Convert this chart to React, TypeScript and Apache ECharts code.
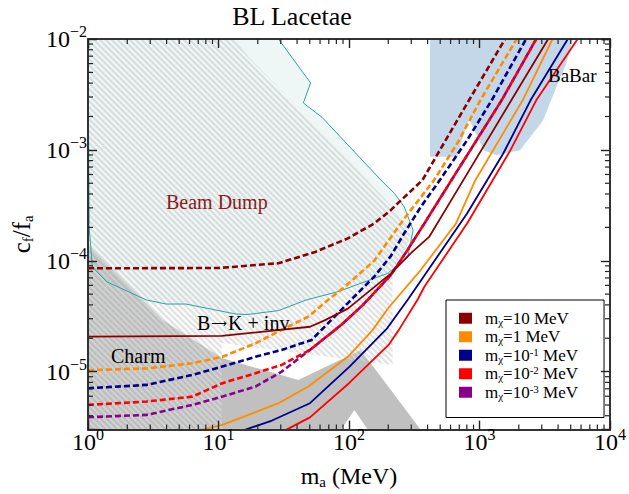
import React, { useEffect, useRef } from 'react';
import * as echarts from 'echarts';

const FONT = "'Liberation Serif', 'Times New Roman', Times, serif";
const X_MIN = 1, X_MAX = 1e4, Y_MIN = 3e-6, Y_MAX = 1e-2;

// ---------- legend ----------
const LEGEND_KEYS = ['m10', 'm1', 'm0.1', 'm0.01', 'm0.001'];
const LEGEND_TEXT: Record<string, string> = {
  m10: 'm{sub|χ}=10 MeV',
  m1: 'm{sub|χ}=1 MeV',
  'm0.1': 'm{sub|χ}=10{sup|-1} MeV',
  'm0.01': 'm{sub|χ}=10{sup|-2} MeV',
  'm0.001': 'm{sub|χ}=10{sup|-3} MeV',
};
const COLORS: Record<string, string> = {
  m10: '#8b0000', m1: '#ff8c00', 'm0.1': '#00008b', 'm0.01': '#ff0000', 'm0.001': '#8b008b',
};

// ---------- curves [m_a (MeV), c_f/f_a] ----------
const darkredDashed = [[1, 8.55e-5], [10, 8.6e-5], [28.8, 9.5e-5], [55, 1.2e-4], [98, 1.59e-4], [156, 2.17e-4], [209, 2.86e-4], [236, 3.29e-4], [365, 5.33e-4], [800, 2.6e-3], [1570, 1e-2]];
const orangeDashed = [[1, 1.03e-5], [2.8, 1.07e-5], [6.3, 1.19e-5], [10.7, 1.36e-5], [19.2, 1.8e-5], [30.5, 2.38e-5], [48.8, 3.13e-5], [69, 4.43e-5], [93, 5.83e-5], [156, 1.0e-4], [265, 2.4e-4], [448, 5.33e-4], [674, 1.14e-3], [1014, 2.8e-3], [1928, 1e-2]];
const navyDashed = [[1, 7.08e-6], [2.8, 7.59e-6], [6.3, 9.33e-6], [10.7, 1.11e-5], [19.2, 1.36e-5], [30.5, 1.57e-5], [51.7, 1.93e-5], [98, 4.15e-5], [156, 7.18e-5], [209, 1.1e-4], [265, 1.77e-4], [355, 3.06e-4], [500, 5.4e-4], [803, 1.22e-3], [1239, 2.8e-3], [2277, 1e-2]];
const redDashed = [[1, 5.01e-6], [2.8, 5.37e-6], [6.3, 5.95e-6], [10.7, 7.86e-6], [19.2, 9.68e-6], [30.5, 1.15e-5], [50.2, 1.57e-5], [87, 2.63e-5], [128, 4.0e-5], [209, 7.43e-5], [281, 1.25e-4], [378, 2.17e-4], [566, 4.64e-4], [1478, 2.8e-3], [2720, 1e-2]];
const purpleDashed = [[1, 3.88e-6], [2.8, 4.07e-6], [6.3, 5.01e-6], [10.7, 5.95e-6], [19.2, 7.33e-6], [30.5, 1.0e-5], [50.2, 1.57e-5], [87, 2.63e-5], [128, 4.0e-5], [209, 7.43e-5], [281, 1.25e-4], [378, 2.17e-4], [566, 4.64e-4], [1478, 2.8e-3], [2720, 1e-2]];

const darkredSolid = [[1, 2.07e-5], [10.6, 2.1e-5], [50.2, 2.54e-5], [65, 2.9e-5], [98, 3.7e-5], [210, 7.7e-5], [298, 1.17e-4], [411, 1.64e-4], [566, 3.06e-4], [3360, 1e-2]];
const orangeSolid = [[7.5, 3e-6], [10.7, 3.31e-6], [17, 4.07e-6], [28.8, 5.19e-6], [48.8, 7.33e-6], [98, 1.36e-5], [152, 2.38e-5], [200, 3.75e-5], [354, 8.24e-5], [660, 2.17e-4], [929, 5.33e-4], [2143, 2.8e-3], [3630, 1e-2]];
const navySolid = [[16.1, 3e-6], [25.7, 3.62e-6], [50.2, 5.19e-6], [101, 1.11e-5], [196, 2.46e-5], [281, 4.43e-5], [803, 2.67e-4], [1520, 9.28e-4], [2460, 2.8e-3], [4750, 1e-2]];
const redSolid = [[33.2, 3e-6], [50.2, 3.87e-6], [100, 7.86e-6], [201, 1.74e-5], [241, 2.38e-5], [334, 4.43e-5], [378, 5.83e-5], [803, 2.17e-4], [1726, 9.94e-4], [2720, 2.8e-3], [5650, 1e-2]];

// ---------- excluded regions ----------
const beamDumpRegion = [[1, 1e-2], [1.02, 2.02e-4], [1.08, 8.8e-5], [1.39, 6.47e-5], [2.8, 4.43e-5], [3.97, 4.07e-5], [5.63, 4.07e-5], [13.5, 3.31e-5], [16.5, 3.27e-5], [28.8, 3.55e-5], [47, 4.43e-5], [82.5, 5.26e-5], [198, 7.7e-5], [281, 1.07e-4], [310, 1.89e-4], [265, 3.06e-4], [223, 4.05e-4], [176, 5.33e-4], [62.3, 1.96e-3], [44.7, 2.65e-3], [50.8, 4.02e-3], [28.8, 1e-2]];
const hatchRegion = [[1, 1e-2], [13.1, 1e-2], [17.1, 6.84e-3], [123, 6.17e-4], [267, 2.33e-4], [296, 1.64e-4], [216, 7.13e-5], [216, 1.15e-5], [10.6, 1.81e-5], [10.6, 3e-6], [1, 3e-6]];
const charmRegion = [[1, 1.38e-4], [3.74, 2.92e-5], [10.7, 1.32e-5], [40.9, 8.4e-6], [123, 1.57e-5], [353, 3e-6], [139, 3e-6], [110, 4.51e-6], [87, 3e-6], [1, 3e-6]];
const babarRegion = [[418, 1e-2], [418, 8.65e-4], [674, 8.65e-4], [827, 1.92e-3], [1077, 9.94e-4], [1359, 8.96e-4], [2043, 9.94e-4], [3076, 1.85e-3], [3883, 3.7e-3], [4625, 6.0e-3], [5204, 1e-2]];

function makeHatch(): string {
  const s = 6;
  const c = document.createElement('canvas');
  c.width = s; c.height = s;
  const ctx = c.getContext('2d')!;
  ctx.fillStyle = 'rgba(255,255,255,0.3)';
  ctx.fillRect(0, 0, s, s);
  ctx.strokeStyle = 'rgba(95,105,105,0.18)';
  ctx.lineWidth = 2.4;
  ctx.beginPath();
  for (const o of [-s, 0, s]) { ctx.moveTo(o - 1, -1); ctx.lineTo(o + s + 1, s + 1); }
  ctx.stroke();
  return c.toDataURL();
}

const fmtPow = (v: number) => {
  const l = Math.log10(v);
  const e = Math.round(l);
  if (Math.abs(l - e) > 1e-6) return '';
  return '10{sup|' + (e < 0 ? '−' + -e : String(e)) + '}';
};

export default function App() {
  const ref = useRef<HTMLDivElement>(null);
  useEffect(() => {
    if (!ref.current) return;
    const chart = echarts.init(ref.current, undefined, { renderer: 'svg' });
    const hatch = { image: makeHatch(), repeat: 'repeat', imageWidth: 6, imageHeight: 6 };

    const poly = (name: string, pts: number[][], style: any, z: number) => ({
      type: 'custom', name, z, silent: true, coordinateSystem: 'cartesian2d',
      data: pts,
      renderItem: (params: any, api: any) => {
        if (params.dataIndex !== 0) return null;
        return { type: 'polygon', shape: { points: pts.map((p) => api.coord(p)) }, style };
      },
    });

    const xMinor: number[][] = [];
    for (let d = 0; d < 4; d++) for (let k = 2; k <= 9; k++) xMinor.push([k * Math.pow(10, d), Y_MIN]);
    const yMinor: number[][] = [];
    for (let d = -6; d < -2; d++) for (let k = 2; k <= 9; k++) {
      const v = k * Math.pow(10, d);
      if (v >= Y_MIN && v <= Y_MAX) yMinor.push([X_MIN, v]);
    }
    const tickStyle = { stroke: '#222', lineWidth: 1.2 };
    const minorX = {
      type: 'custom', z: 20, silent: true, data: xMinor,
      renderItem: (_p: any, api: any) => {
        const a = api.coord([api.value(0), Y_MIN]);
        const b = api.coord([api.value(0), Y_MAX]);
        return { type: 'group', children: [
          { type: 'line', shape: { x1: a[0], y1: a[1], x2: a[0], y2: a[1] - 5 }, style: tickStyle },
          { type: 'line', shape: { x1: b[0], y1: b[1], x2: b[0], y2: b[1] + 5 }, style: tickStyle },
        ] };
      },
    };
    const minorY = {
      type: 'custom', z: 20, silent: true, data: yMinor,
      renderItem: (_p: any, api: any) => {
        const a = api.coord([X_MIN, api.value(1)]);
        const b = api.coord([X_MAX, api.value(1)]);
        return { type: 'group', children: [
          { type: 'line', shape: { x1: a[0], y1: a[1], x2: a[0] + 5, y2: a[1] }, style: tickStyle },
          { type: 'line', shape: { x1: b[0], y1: b[1], x2: b[0] - 5, y2: b[1] }, style: tickStyle },
        ] };
      },
    };

    const line = (key: string, data: number[][], dashed: boolean, z: number) => ({
      type: 'line', name: key, data, z, showSymbol: false, symbol: 'none', silent: true,
      itemStyle: { color: COLORS[key] },
      lineStyle: { color: COLORS[key], width: dashed ? 2.6 : 1.8, type: dashed ? [6, 3] : 'solid' },
    });

    const supRich = {
      sup: { fontSize: 16, fontFamily: FONT, color: '#000', lineHeight: 16, padding: [0, 0, 15, 0] },
    };
    const axisCommon = (pos: string, showLabel: boolean) => ({
      type: 'log', logBase: 10, position: pos, z: 10,
      axisLine: { show: true, onZero: false, lineStyle: { color: '#333', width: 2 } },
      axisTick: { show: true, inside: true, length: 9, lineStyle: { color: '#222', width: 1.4 } },
      splitLine: { show: false },
      minorTick: { show: false },
      axisLabel: {
        show: showLabel, formatter: fmtPow, fontSize: 24, fontFamily: FONT, color: '#000',
        rich: supRich,
      },
    });

    const option: any = {
      animation: false,
      textStyle: { fontFamily: FONT },
      grid: { left: 88, right: 15, top: 39, bottom: 64 },
      xAxis: [
        { ...axisCommon('bottom', true), min: X_MIN, max: X_MAX,
          axisLabel: { ...axisCommon('bottom', true).axisLabel, margin: 0 },
          name: 'm{sub|a} (MeV)', nameLocation: 'middle', nameGap: 32,
          nameTextStyle: { fontSize: 24, fontFamily: FONT, color: '#000',
            rich: { sub: { fontSize: 15, fontFamily: FONT, lineHeight: 15, padding: [12, 0, 0, 0] } } } },
        { ...axisCommon('top', false), min: X_MIN, max: X_MAX },
      ],
      yAxis: [
        { ...axisCommon('left', true), min: Y_MIN, max: Y_MAX,
          axisLabel: { ...axisCommon('left', true).axisLabel, margin: 1 },
          name: 'c{sub|f}/f{sub|a}', nameLocation: 'middle', nameGap: 46, nameRotate: 90,
          nameTextStyle: { fontSize: 25, fontFamily: FONT, color: '#000',
            rich: { sub: { fontSize: 15, fontFamily: FONT, lineHeight: 15, padding: [12, 0, 0, 0] } } } },
        { ...axisCommon('right', false), min: Y_MIN, max: Y_MAX },
      ],
      legend: {
        orient: 'vertical', left: 446, top: 300, selectedMode: false,
        padding: [9, 26, 16, 13], itemWidth: 13, itemHeight: 11, itemGap: 0,
        backgroundColor: '#fff', borderColor: '#000', borderWidth: 1, borderRadius: 0,
        itemStyle: { borderWidth: 0 },
        data: LEGEND_KEYS.map((k) => ({ name: k, icon: 'rect' })),
        formatter: (n: string) => LEGEND_TEXT[n],
        textStyle: {
          fontSize: 17, fontFamily: FONT, color: '#000', lineHeight: 18.5, padding: [0, 0, 0, 8],
          rich: {
            sub: { fontSize: 11, fontFamily: FONT, lineHeight: 11, padding: [7, 0, 0, 0] },
            sup: { fontSize: 11, fontFamily: FONT, lineHeight: 11, padding: [0, 0, 7, 0] },
          },
        },
      },
      graphic: [
        { type: 'text', x: 292, y: 3, z: 50, style: { text: 'BL Lacetae', fontSize: 26, fontFamily: FONT, fill: '#000', textAlign: 'center' } },
        { type: 'text', x: 166, y: 192, z: 50, style: { text: 'Beam Dump', fontSize: 20, fontFamily: FONT, fill: '#8b1a1a' } },
        { type: 'text', x: 197, y: 313, z: 50, style: {
          text: 'B{a|⟶}K + inv', fontSize: 20, fontFamily: FONT, fill: '#000',
          rich: { a: { fontSize: 11, fontFamily: 'DejaVu Sans', fill: '#000', padding: [0, 1, 0, 1] } } } },
        { type: 'text', x: 111, y: 346, z: 50, style: { text: 'Charm', fontSize: 20, fontFamily: FONT, fill: '#000' } },
        { type: 'text', x: 548, y: 66, z: 50, style: { text: 'BaBar', fontSize: 19, fontFamily: FONT, fill: '#000' } },
      ],
      series: [
        poly('Beam Dump', beamDumpRegion, { fill: '#eef6f6' }, 1),
        poly('Charm', charmRegion, { fill: 'rgba(150,150,150,0.6)' }, 1),
        poly('BaBar', babarRegion, { fill: '#c3d7e8' }, 1),
        poly('B→K+inv', hatchRegion, { fill: hatch }, 1),
        poly('Beam Dump edge', beamDumpRegion, { fill: 'none', stroke: '#2aa3a3', lineWidth: 1 }, 1),
        line('m10', darkredDashed, true, 3),
        line('m1', orangeDashed, true, 3),
        line('m0.1', navyDashed, true, 3),
        line('m0.001', purpleDashed, true, 3),
        line('m0.01', redDashed, true, 3),
        line('m10', darkredSolid, false, 3),
        line('m1', orangeSolid, false, 3),
        line('m0.1', navySolid, false, 3),
        line('m0.01', redSolid, false, 3),
        minorX,
        minorY,
      ],
    };
    chart.setOption(option);
    return () => chart.dispose();
  }, []);
  return <div ref={ref} style={{ position: 'fixed', left: 0, top: 0, width: 629, height: 494, background: '#fff' }} />;
}
